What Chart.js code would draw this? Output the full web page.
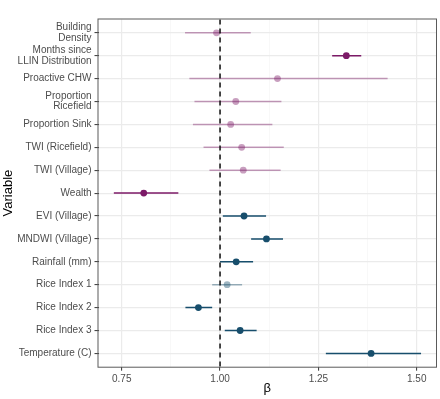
<!DOCTYPE html>
<html>
<head>
<meta charset="utf-8">
<script src="https://cdn.jsdelivr.net/npm/chart.js@4.4.1/dist/chart.umd.min.js"></script>
<style>
html,body{margin:0;padding:0;background:#fff;}
#wrap{width:440px;height:399px;}
</style>
</head>
<body>
<div id="wrap"><canvas id="c" width="440" height="399"></canvas></div>
<script>
// ---- data ----
const categories = [
  ["Building", "Density"],
  ["Months since", "LLIN Distribution"],
  "Proactive CHW",
  ["Proportion", "Ricefield"],
  "Proportion Sink",
  "TWI (Ricefield)",
  "TWI (Village)",
  "Wealth",
  "EVI (Village)",
  "MNDWI (Village)",
  "Rainfall (mm)",
  "Rice Index 1",
  "Rice Index 2",
  "Rice Index 3",
  "Temperature (C)"
];
const estimate = [0.991, 1.321, 1.146, 1.040, 1.027, 1.055, 1.059, 0.806, 1.061, 1.118, 1.041, 1.018, 0.945, 1.051, 1.384];
const lower    = [0.911, 1.285, 0.922, 0.935, 0.931, 0.958, 0.973, 0.730, 1.007, 1.079, 1.000, 0.980, 0.912, 1.012, 1.269];
const upper    = [1.078, 1.359, 1.426, 1.156, 1.133, 1.162, 1.154, 0.894, 1.117, 1.160, 1.084, 1.056, 0.980, 1.093, 1.511];
const group    = ["a","a","a","a","a","a","a","a","b","b","b","b","b","b","b"];
const significant = [false,true,false,false,false,false,false,true,true,true,true,false,true,true,true];
const xTicks = [0.75, 1.00, 1.25, 1.50];
const xMinor = [0.875, 1.125, 1.375];
const refValue = 1;

// ---- styles ----
const colors = {
  a: {strong: "rgb(124,26,103)", light: "rgba(124,26,103,0.42)"},
  b: {strong: "rgb(23,78,108)", light: "rgba(23,78,108,0.42)"}
};
const colorFor = i => significant[i] ? colors[group[i]].strong : colors[group[i]].light;
const FONT = "'Liberation Sans', Arial, sans-serif";

const datasets = [];
// reference line (index 0 -> drawn on top)
datasets.push({
  type: "line",
  data: [{x: refValue, y: -0.58}, {x: refValue, y: 14.58}],
  borderColor: "#000",
  borderWidth: 1.4,
  borderDash: [5, 4],
  pointRadius: 0,
  clip: false
});
// points
datasets.push({
  type: "scatter",
  data: estimate.map((v, i) => ({x: v, y: i})),
  pointRadius: 3.4,
  pointBorderWidth: 0,
  pointBackgroundColor: estimate.map((v, i) => colorFor(i)),
  pointBorderColor: estimate.map((v, i) => colorFor(i))
});
// interval lines
categories.forEach((c, i) => {
  datasets.push({
    type: "line",
    data: [{x: lower[i], y: i}, {x: upper[i], y: i}],
    borderColor: colorFor(i),
    borderWidth: 1.5,
    pointRadius: 0
  });
});

const allX = [...xTicks, ...xMinor].sort((a, b) => a - b);

const boxPlugin = {
  id: "box",
  afterDraw(chart) {
    const a = chart.chartArea, ctx = chart.ctx;
    ctx.save();
    ctx.strokeStyle = "#5a5a5a";
    ctx.lineWidth = 1;
    ctx.strokeRect(a.left - 0.5, a.top - 0.5, a.right - a.left + 1, a.bottom - a.top + 1);
    ctx.restore();
  }
};

new Chart(document.getElementById("c"), {
  data: {datasets},
  options: {
    responsive: false,
    animation: false,
    events: [],
    layout: {padding: {left: 0, top: 19.5, right: 2, bottom: 0}},
    plugins: {legend: {display: false}, tooltip: {enabled: false}},
    scales: {
      x: {
        type: "linear",
        min: 0.691,
        max: 1.549,
        afterBuildTicks: s => { s.ticks = allX.map(v => ({value: v})); },
        afterFit: s => { s.height = 32.3; },
        ticks: {
          callback: v => xTicks.includes(v) ? v.toFixed(2) : "",
          font: {family: FONT, size: 10},
          color: "#4d4d4d",
          padding: 3,
          maxRotation: 0,
          autoSkip: false
        },
        grid: {
          color: c => (c.tick && xTicks.includes(c.tick.value)) ? "#ebebeb" : "#f3f3f3",
          lineWidth: c => (c.tick && xTicks.includes(c.tick.value)) ? 1.2 : 0.6,
          tickColor: c => (c.tick && xTicks.includes(c.tick.value)) ? "#333" : "rgba(0,0,0,0)",
          tickLength: 4,
          tickWidth: 1
        },
        border: {display: false},
        title: {
          display: true,
          text: "β",
          font: {family: FONT, size: 13},
          color: "#000",
          padding: {top: 0, bottom: 3}
        }
      },
      y: {
        type: "linear",
        reverse: true,
        min: -0.58,
        max: 14.58,
        afterBuildTicks: s => { s.ticks = categories.map((c, i) => ({value: i})); },
        afterFit: s => { s.width = 98.5; },
        ticks: {
          callback: (v) => categories[v],
          font: {family: FONT, size: 10, lineHeight: 1.05},
          color: "#4d4d4d",
          padding: 3,
          autoSkip: false
        },
        grid: {
          color: "#ebebeb",
          lineWidth: 1.2,
          tickColor: "#333",
          tickLength: 4,
          tickWidth: 1
        },
        border: {display: false},
        title: {
          display: true,
          text: "Variable",
          font: {family: FONT, size: 13},
          color: "#000",
          padding: {top: 1, bottom: 0}
        }
      }
    }
  },
  plugins: [boxPlugin]
});
</script>
</body>
</html>
